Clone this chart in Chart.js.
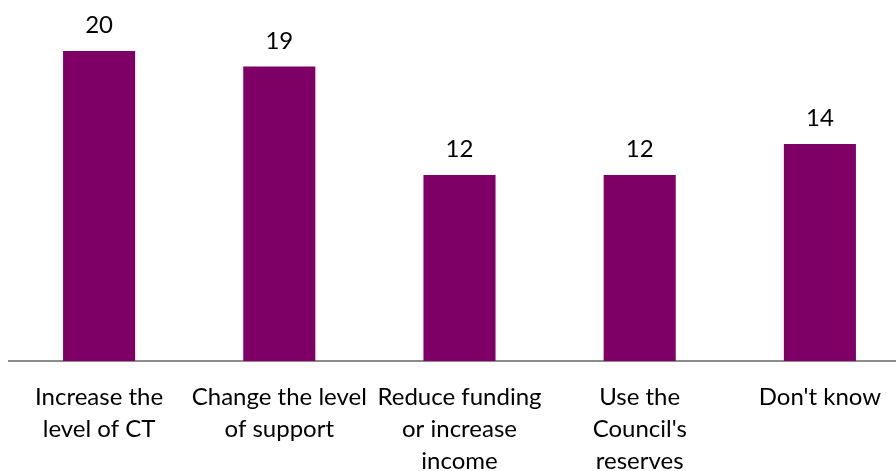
<!DOCTYPE html>
<html lang="en">
<head>
    <meta charset="UTF-8">
    <title>Options</title>
    <style>
        html, body { margin: 0; padding: 0; background: #fff; overflow: hidden; }
        #wrap { width: 912px; height: 471px; }
    </style>
</head>
<body>
    <div id="wrap">
        <canvas id="chart" width="912" height="471"></canvas>
    </div>

    <script src="https://cdn.jsdelivr.net/npm/chart.js"></script>
    <script>
        const categories = [
            ['Increase the', 'level of CT'],
            ['Change the level', 'of support'],
            ['Reduce funding', 'or increase', 'income'],
            ['Use the', "Council's", 'reserves'],
            ["Don't know"]
        ];
        const values = [20, 19, 12, 12, 14];

        const FONT = 'Lato, "Open Sans", sans-serif';

        // value printed above each bar
        const barValues = {
            id: 'barValues',
            afterDatasetsDraw(chart) {
                const ctx = chart.ctx;
                const meta = chart.getDatasetMeta(0);
                ctx.save();
                ctx.font = '24px ' + FONT;
                ctx.fillStyle = '#000';
                ctx.textAlign = 'center';
                ctx.textBaseline = 'alphabetic';
                meta.data.forEach((bar, i) => {
                    ctx.fillText(values[i], bar.x, bar.y - 18);
                });
                ctx.restore();
            }
        };

        new Chart(document.getElementById('chart'), {
            type: 'bar',
            data: {
                labels: categories,
                datasets: [{
                    data: values,
                    backgroundColor: '#7e0066',
                    borderWidth: 0,
                    barPercentage: 0.4,
                    categoryPercentage: 1
                }]
            },
            options: {
                responsive: false,
                animation: false,
                layout: { padding: { left: 9, right: 2, top: 20, bottom: 0 } },
                plugins: {
                    legend: { display: false },
                    tooltip: { enabled: false }
                },
                scales: {
                    x: {
                        grid: { display: false, drawTicks: false },
                        border: { display: true, color: '#8c8c8c', width: 2 },
                        ticks: {
                            color: '#000',
                            padding: 20,
                            maxRotation: 0,
                            autoSkip: false,
                            font: { family: FONT, size: 24, lineHeight: 1.33 }
                        },
                        afterFit(scale) { scale.height = 110; }
                    },
                    y: {
                        display: false,
                        min: 0,
                        max: 22
                    }
                }
            },
            plugins: [barValues]
        });
    </script>
</body>
</html>
